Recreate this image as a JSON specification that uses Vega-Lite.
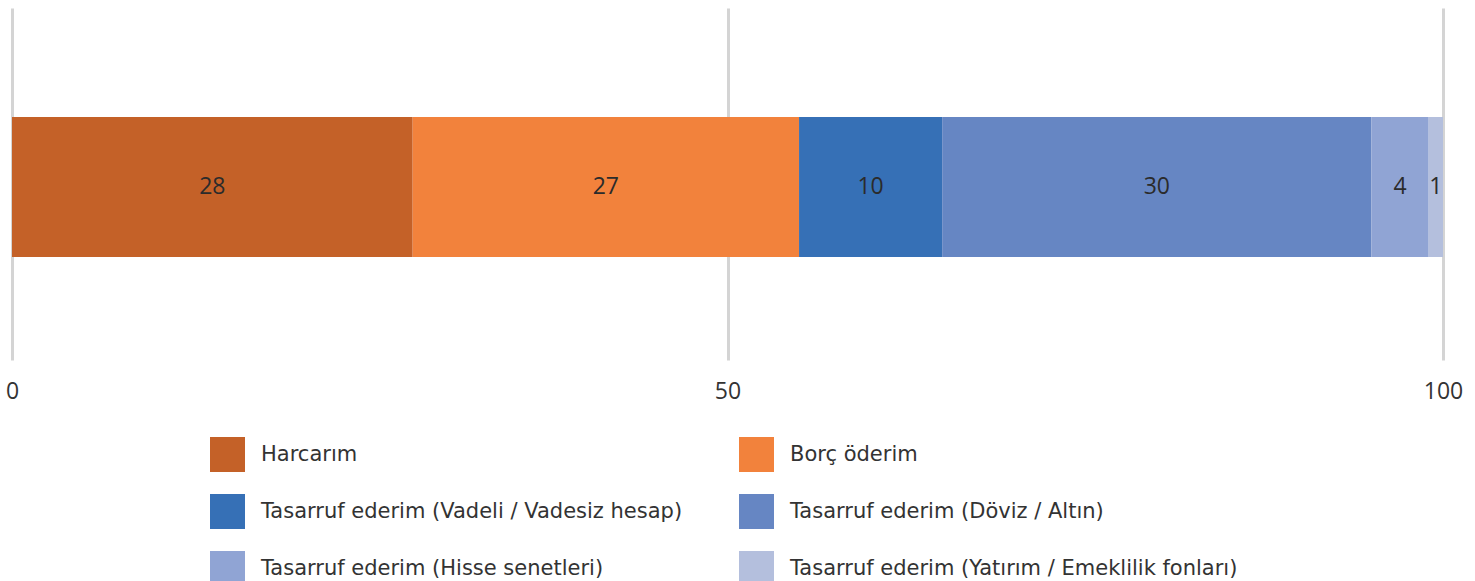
{
  "$schema": "https://vega.github.io/schema/vega-lite/v6.json",
  "width": 1431,
  "height": 352,
  "autosize": {"type": "none"},
  "padding": {"left": 12, "top": 8, "right": 32, "bottom": 221},
  "background": "white",
  "config": {"view": {"stroke": null}, "font": "Open Sans"},
  "data": {
    "values": [
      {"group": "Toplam", "category": "Harcarım", "value": 28, "order": 1},
      {"group": "Toplam", "category": "Borç öderim", "value": 27, "order": 2},
      {"group": "Toplam", "category": "Tasarruf ederim (Vadeli / Vadesiz hesap)", "value": 10, "order": 3},
      {"group": "Toplam", "category": "Tasarruf ederim (Döviz / Altın)", "value": 30, "order": 4},
      {"group": "Toplam", "category": "Tasarruf ederim (Hisse senetleri)", "value": 4, "order": 5},
      {"group": "Toplam", "category": "Tasarruf ederim (Yatırım / Emeklilik fonları)", "value": 1, "order": 6}
    ]
  },
  "transform": [
    {"stack": "value", "groupby": ["group"], "sort": [{"field": "order", "order": "ascending"}], "as": ["v0", "v1"]},
    {"calculate": "(datum.v0 + datum.v1) / 2", "as": "mid"}
  ],
  "encoding": {
    "y": {"field": "group", "type": "nominal", "axis": null, "scale": {"paddingInner": 0, "paddingOuter": 0}}
  },
  "layer": [
    {
      "mark": {"type": "bar", "size": 140, "yOffset": 3},
      "encoding": {
        "x": {
          "field": "v0", "type": "quantitative",
          "scale": {"domain": [0, 100], "nice": false},
          "axis": {
            "values": [0, 50, 100], "title": null, "domain": false, "ticks": false,
            "grid": true, "gridColor": "#d4d4d4", "gridWidth": 3,
            "labelFontSize": 23, "labelColor": "#333333", "labelPadding": 20,
            "labelFont": "Open Sans", "labelFlush": false
          }
        },
        "x2": {"field": "v1"},
        "color": {
          "field": "category", "type": "nominal",
          "scale": {
            "domain": ["Harcarım", "Borç öderim", "Tasarruf ederim (Vadeli / Vadesiz hesap)", "Tasarruf ederim (Döviz / Altın)", "Tasarruf ederim (Hisse senetleri)", "Tasarruf ederim (Yatırım / Emeklilik fonları)"],
            "range": ["#C46128", "#F2823C", "#3670B6", "#6686C3", "#90A4D4", "#B4BFDD"]
          },
          "legend": {
            "orient": "none", "legendX": 198, "legendY": 429, "title": null,
            "columns": 2, "direction": "horizontal",
            "symbolType": "square", "symbolSize": 1225, "symbolStrokeWidth": 0,
            "labelFontSize": 21, "labelColor": "#333333", "labelFont": "DejaVu Sans",
            "labelOffset": 16, "rowPadding": 22, "columnPadding": 56, "labelLimit": 600
          }
        },
        "order": {"field": "order"}
      }
    },
    {
      "mark": {"type": "text", "fontSize": 23, "color": "#2b2b2b", "font": "Open Sans", "yOffset": 3},
      "encoding": {
        "x": {"field": "mid", "type": "quantitative"},
        "text": {"field": "value", "type": "quantitative"}
      }
    }
  ]
}
